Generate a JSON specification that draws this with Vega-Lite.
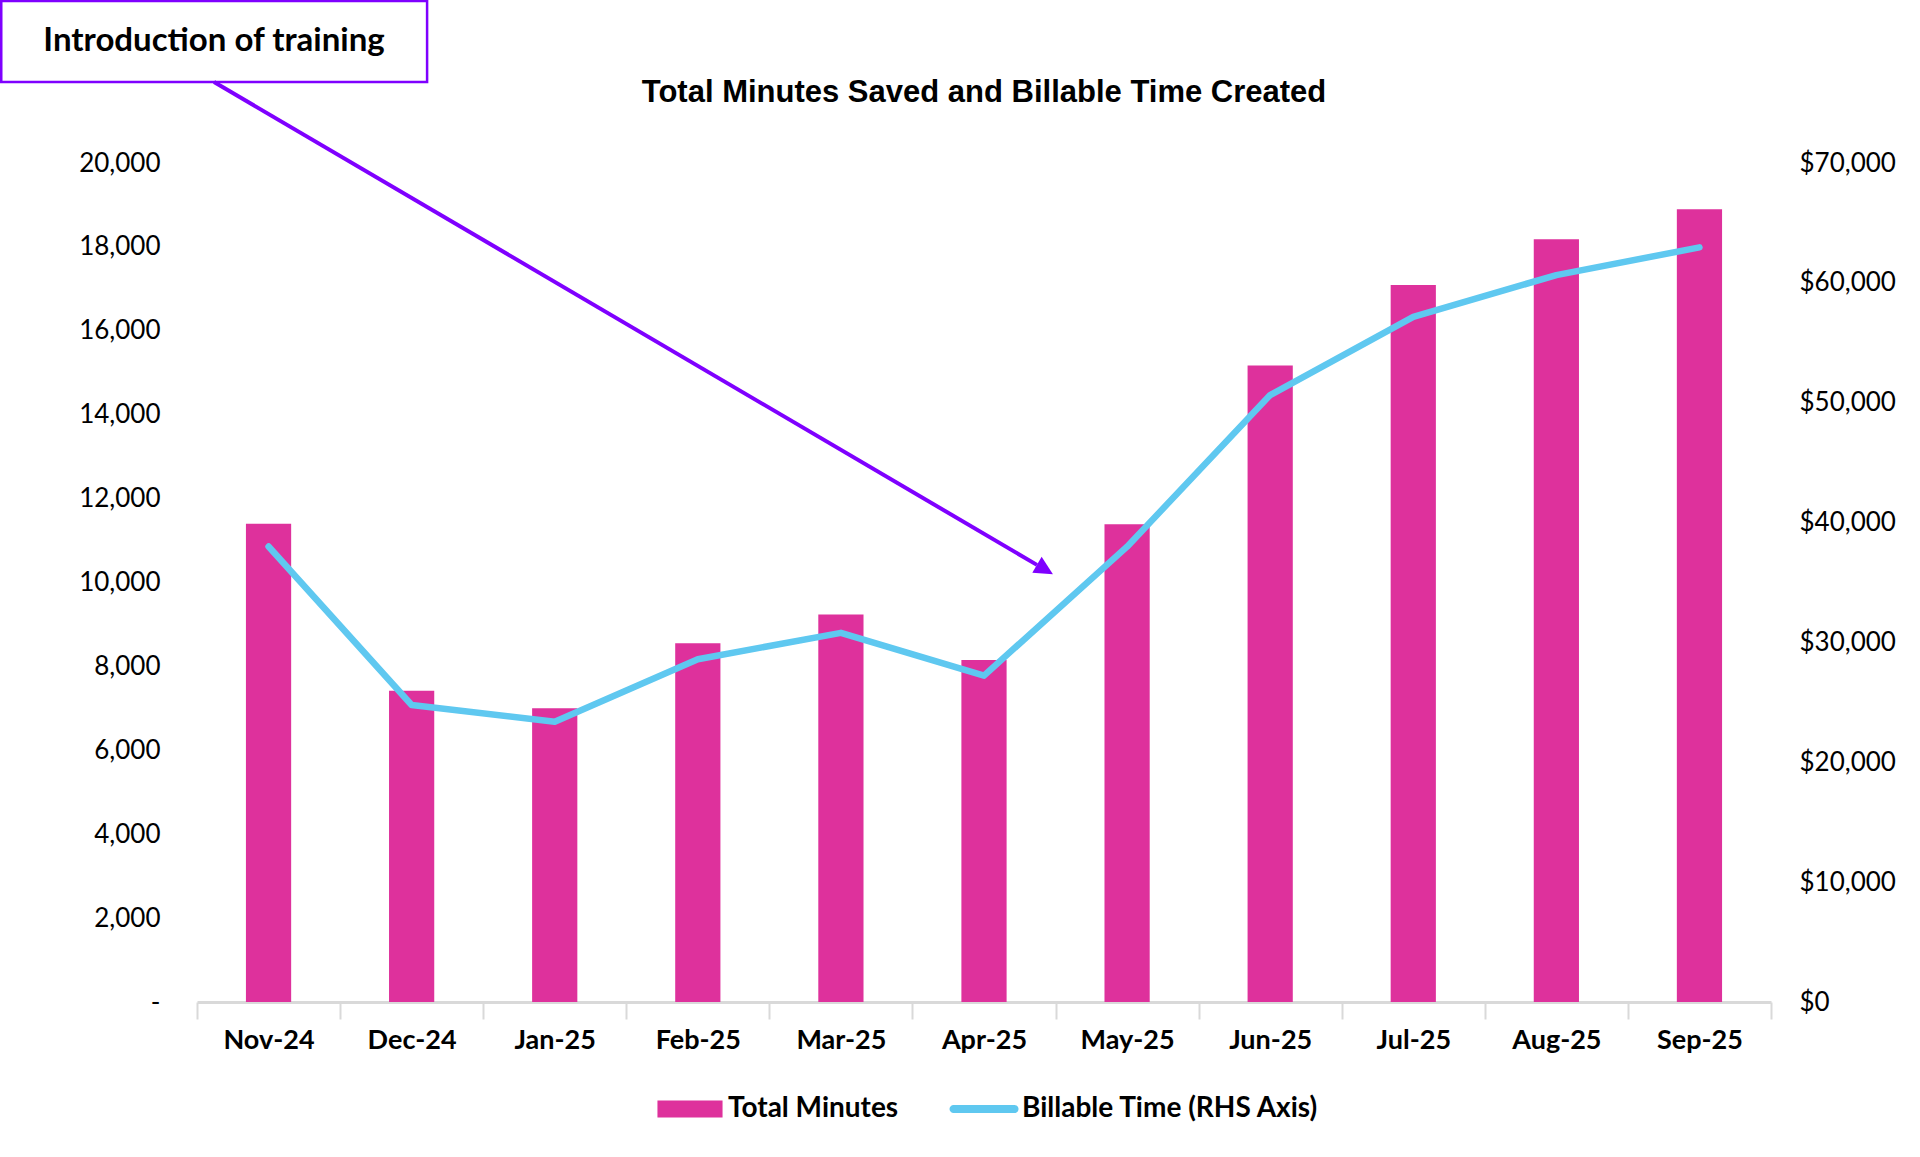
{
  "$schema": "https://vega.github.io/schema/vega-lite/v6.json",
  "width": 1574,
  "height": 839,
  "autosize": {"type": "none"},
  "padding": {"left": 197, "top": 163, "right": 149, "bottom": 155},
  "background": "white",
  "config": {"view": {"stroke": null}, "font": "Lato"},
  "data": {
    "values": [
      {"month": "Nov-24", "minutes": 11400, "billable": 38000},
      {"month": "Dec-24", "minutes": 7420, "billable": 24780},
      {"month": "Jan-25", "minutes": 7000, "billable": 23390},
      {"month": "Feb-25", "minutes": 8550, "billable": 28600},
      {"month": "Mar-25", "minutes": 9240, "billable": 30800},
      {"month": "Apr-25", "minutes": 8150, "billable": 27230},
      {"month": "May-25", "minutes": 11390, "billable": 37990},
      {"month": "Jun-25", "minutes": 15170, "billable": 50640},
      {"month": "Jul-25", "minutes": 17090, "billable": 57170},
      {"month": "Aug-25", "minutes": 18180, "billable": 60650},
      {"month": "Sep-25", "minutes": 18900, "billable": 62960}
    ]
  },
  "layer": [
    {
      "mark": {"type": "bar", "width": {"band": 0.316}},
      "encoding": {
        "x": {
          "field": "month",
          "type": "ordinal",
          "sort": null,
          "scale": {"type": "band", "paddingInner": 0, "paddingOuter": 0},
          "axis": {
            "title": null,
            "labelAngle": 0,
            "labelFont": "Lato",
            "labelFontSize": 27,
            "labelFontWeight": "bold",
            "labelColor": "#000000",
            "labelPadding": 8,
            "domainColor": "#D9D9D9",
            "domainWidth": 3,
            "tickColor": "#D9D9D9",
            "tickWidth": 2,
            "tickSize": 17,
            "tickBand": "extent",
            "grid": false
          }
        },
        "y": {
          "field": "minutes",
          "type": "quantitative",
          "scale": {"domain": [0, 20000], "nice": false},
          "axis": {
            "title": null,
            "values": [0, 2000, 4000, 6000, 8000, 10000, 12000, 14000, 16000, 18000, 20000],
            "labelExpr": "datum.value === 0 ? '-\u00a0\u00a0' : format(datum.value, ',')",
            "domain": false,
            "ticks": false,
            "tickSize": 0,
            "grid": false,
            "labelPadding": 37,
            "labelFont": "Lato",
            "labelFontSize": 26,
            "labelColor": "#000000"
          }
        },
        "color": {
          "datum": "Total Minutes",
          "type": "nominal",
          "scale": {
            "domain": ["Total Minutes", "Billable Time (RHS Axis)"],
            "range": ["#DE319C", "#5FC8F0"]
          },
          "legend": {
            "orient": "none",
            "legendX": 478,
            "legendY": 931,
            "direction": "horizontal",
            "title": null,
            "labelFont": "Lato",
            "labelFontSize": 28,
            "labelFontWeight": "bold",
            "labelColor": "#000000",
            "labelLimit": 0,
            "symbolSize": 900,
            "labelOffset": 23,
            "columnPadding": 50,
            "encode": {
              "symbols": {
                "update": {
                  "shape": {"signal": "datum.value === 'Total Minutes' ? 'M-2.17,-0.57H2.17V0.57H-2.17Z' : 'M-2.03,-0.27H2.03A0.27,0.27 0 0 1 2.03,0.27H-2.03A0.27,0.27 0 0 1 -2.03,-0.27Z'"},
                  "fill": {"signal": "datum.value === 'Total Minutes' ? '#DE319C' : '#5FC8F0'"},
                  "stroke": {"value": "transparent"},
                  "strokeWidth": {"value": 0}
                }
              }
            }
          }
        }
      }
    },
    {
      "mark": {"type": "line", "strokeWidth": 6.5, "strokeCap": "round", "strokeJoin": "round"},
      "encoding": {
        "x": {
          "field": "month",
          "type": "ordinal",
          "sort": null,
          "scale": {"type": "band", "paddingInner": 0, "paddingOuter": 0},
          "axis": null
        },
        "y": {
          "field": "billable",
          "type": "quantitative",
          "scale": {"domain": [0, 70000], "nice": false},
          "axis": {
            "orient": "right",
            "title": null,
            "values": [0, 10000, 20000, 30000, 40000, 50000, 60000, 70000],
            "format": "$,.0f",
            "domain": false,
            "ticks": false,
            "tickSize": 0,
            "grid": false,
            "labelPadding": 28,
            "labelFont": "Lato",
            "labelFontSize": 26,
            "labelColor": "#000000"
          }
        },
        "color": {"datum": "Billable Time (RHS Axis)", "type": "nominal"}
      }
    },
    {
      "data": {"values": [{"note": "Introduction of training"}]},
      "mark": {"type": "rect", "fill": "white", "stroke": "#7F00FF", "strokeWidth": 2.5, "clip": false},
      "encoding": {
        "x": {"datum": -1.368, "type": "quantitative", "scale": {"domain": [0, 11], "nice": false, "zero": false}, "axis": null},
        "x2": {"datum": 1.608},
        "y": {"datum": 23860, "type": "quantitative", "scale": {"domain": [0, 20000], "nice": false}, "axis": null},
        "y2": {"datum": 21931}
      }
    },
    {
      "data": {"values": [{"note": "Introduction of training"}]},
      "mark": {"type": "rule", "color": "#7F00FF", "strokeWidth": 4},
      "encoding": {
        "x": {"datum": 0.119, "type": "quantitative", "scale": {"domain": [0, 11], "nice": false, "zero": false}, "axis": null},
        "x2": {"datum": 5.87},
        "y": {"datum": 21931, "type": "quantitative", "scale": {"domain": [0, 20000], "nice": false}, "axis": null},
        "y2": {"datum": 10420}
      }
    },
    {
      "data": {"values": [{"note": "Introduction of training"}]},
      "mark": {"type": "point", "shape": "M0,-1L1,1L-1,1Z", "filled": true, "color": "#7F00FF", "opacity": 1, "size": 342, "angle": 120.3},
      "encoding": {
        "x": {"datum": 5.926, "type": "quantitative", "scale": {"domain": [0, 11], "nice": false, "zero": false}, "axis": null},
        "y": {"datum": 10310, "type": "quantitative", "scale": {"domain": [0, 20000], "nice": false}, "axis": null}
      }
    },
    {
      "data": {"values": [{"note": "Introduction of training"}]},
      "mark": {"type": "text", "font": "Lato", "fontSize": 33, "fontWeight": "bold", "color": "#000000", "align": "center", "baseline": "middle"},
      "encoding": {
        "text": {"field": "note"},
        "x": {"datum": 0.119, "type": "quantitative", "scale": {"domain": [0, 11], "nice": false, "zero": false}, "axis": null},
        "y": {"datum": 22900, "type": "quantitative", "scale": {"domain": [0, 20000], "nice": false}, "axis": null}
      }
    },
    {
      "data": {"values": [{"title": "Total Minutes Saved and Billable Time Created"}]},
      "mark": {"type": "text", "font": "Liberation Sans", "fontSize": 31, "fontWeight": "bold", "color": "#000000", "align": "center", "baseline": "middle"},
      "encoding": {
        "text": {"field": "title"},
        "x": {"datum": 5.5, "type": "quantitative", "scale": {"domain": [0, 11], "nice": false, "zero": false}, "axis": null},
        "y": {"datum": 21670, "type": "quantitative", "scale": {"domain": [0, 20000], "nice": false}, "axis": null}
      }
    }
  ],
  "resolve": {"scale": {"x": "independent", "y": "independent"}}
}
